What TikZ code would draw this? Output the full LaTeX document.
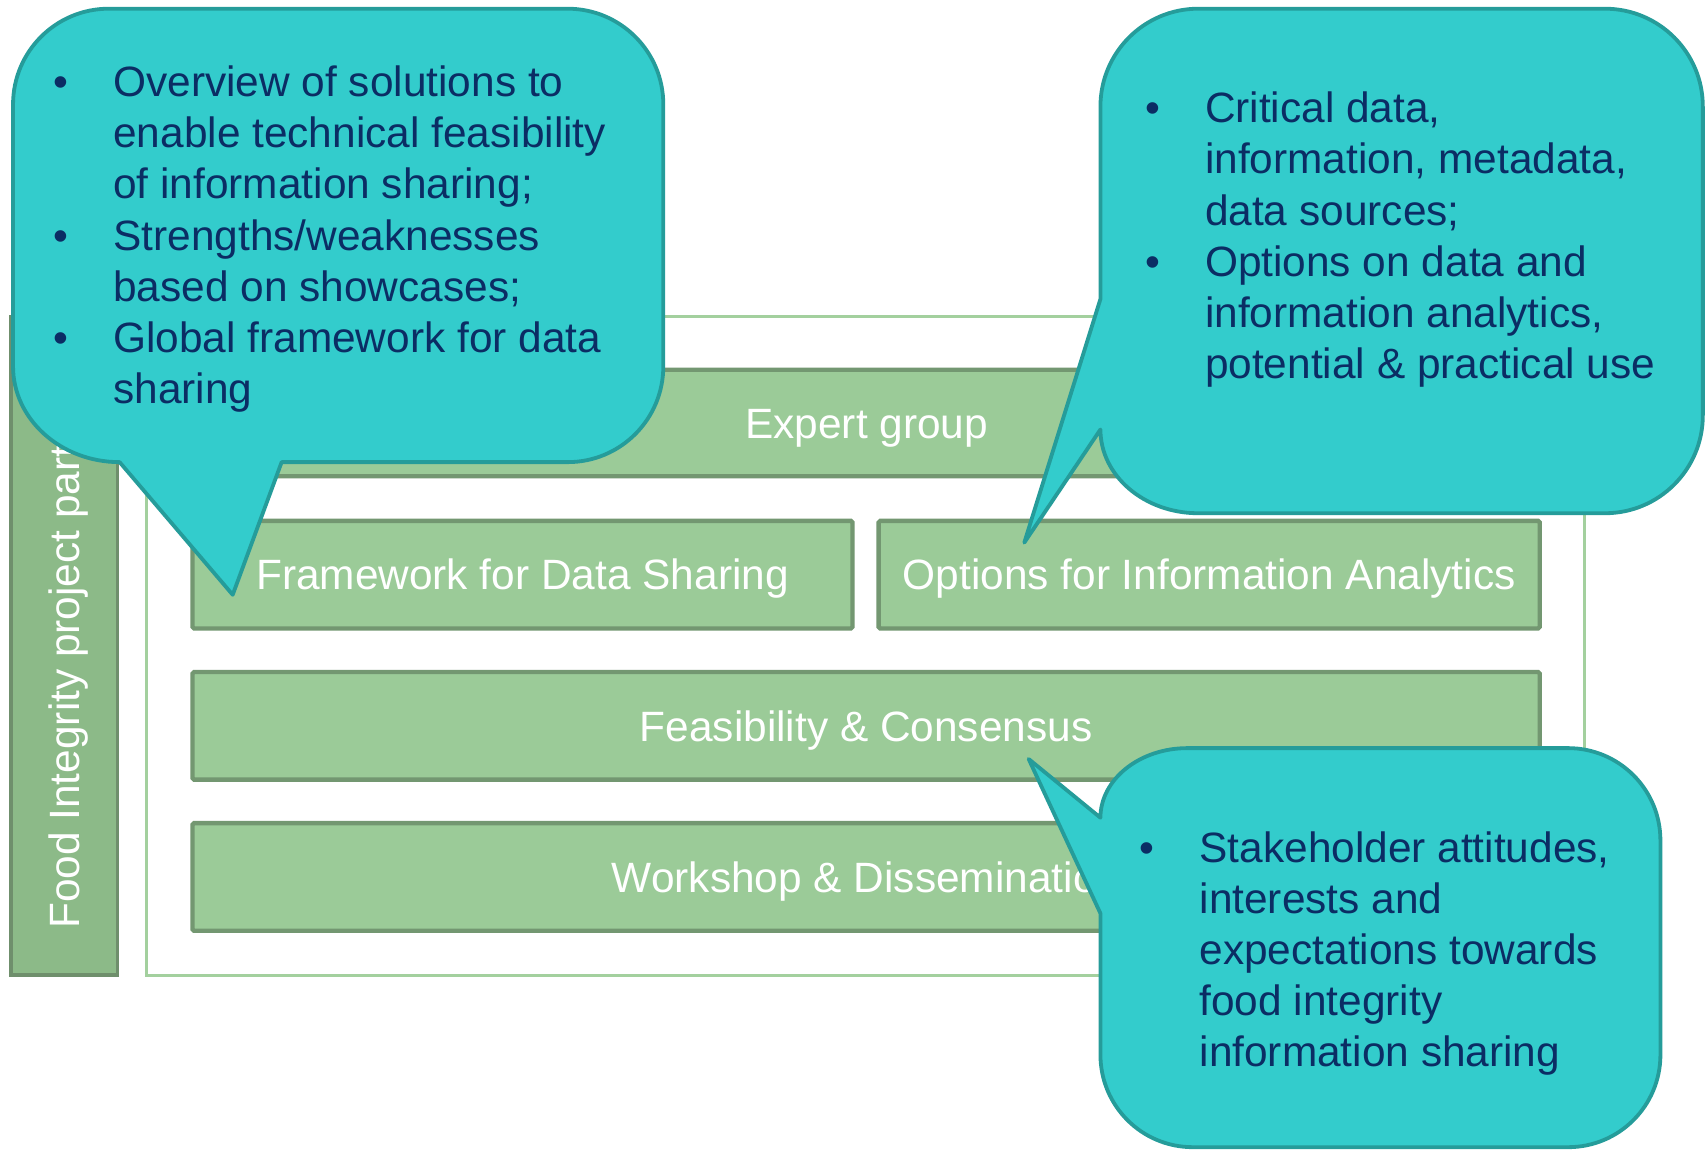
\documentclass[tikz,border=0pt]{standalone}
\usepackage{fontspec}
\setmainfont{Liberation Sans}
\newfontfamily\arialf{Liberation Sans}
\definecolor{tealfill}{HTML}{33CCCC}
\definecolor{tealline}{HTML}{259C9A}
\definecolor{navytext}{HTML}{0B2D64}
\definecolor{boxfill}{HTML}{9BCB98}
\definecolor{boxline}{HTML}{739771}
\definecolor{barfill}{HTML}{8CBA88}
\definecolor{barline}{HTML}{6F8F6C}
\definecolor{frameline}{HTML}{A3D09E}
\newcommand{\bfnt}{\arialf\fontsize{39}{47}\selectfont}
\newcommand{\bul}{\makebox[55pt][l]{•}}
\begin{document}
\begin{tikzpicture}[x=1pt,y=-1pt,
  greenbox/.style={draw=boxline,fill=boxfill,line width=4pt,rounded corners=1.5pt,
    text=white,font=\bfnt,inner sep=0pt,text height=28pt,text depth=0pt},
  callout/.style={draw=tealline,fill=tealfill,line width=3.5pt,line join=round},
  callouttext/.style={anchor=base west,inner sep=0pt,text=navytext,font=\bfnt}]
\useasboundingbox (0,0) rectangle (1568,1059.4);
% outer frame
\node[draw=frameline,fill=white,line width=3pt,minimum width=1322pt,minimum height=606pt,inner sep=0pt] (frame) at (796,594) {};
% left bar
\node[draw=barline,fill=barfill,line width=3.5pt,minimum width=98pt,minimum height=606pt,inner sep=0pt] (bar) at (59,594) {};
\node[rotate=90,text=white,font=\bfnt,inner sep=0pt,text height=28pt,text depth=0pt] (barlabel) at (bar.center) {Food Integrity project partners};
% green boxes
\node[greenbox,minimum width=1238pt,minimum height=98pt] (expert) at (797,389) {Expert group};
\node[greenbox,minimum width=607pt,minimum height=99pt] (framework) at (480.5,528.5) {Framework for Data Sharing};
\node[greenbox,minimum width=608pt,minimum height=99pt] (options) at (1112,528.5) {Options for Information Analytics};
\node[greenbox,minimum width=1239pt,minimum height=99pt] (feas) at (796.5,667.5) {Feasibility \& Consensus};
\node[greenbox,minimum width=1239pt,minimum height=99pt] (workshop) at (796.5,806.5) {Workshop \& Dissemination};
% left callout
\draw[callout] (100,8) -- (522,8) .. controls (570.6,8) and (610,47.4) .. (610,96)
  -- (610,337) .. controls (610,385.6) and (570.6,425) .. (522,425)
  -- (259,425) -- (214,547) -- (110,425)
  .. controls (56,425) and (12,385.6) .. (12,337)
  -- (12,96) .. controls (12,47.4) and (51.4,8) .. (100,8) -- cycle;
\node[callouttext] (lefttext) at (49,89) {\begin{tabular}[t]{@{}l@{}}
\bul Overview of solutions to\\
\hspace*{55pt}enable technical feasibility\\
\hspace*{55pt}of information sharing;\\
\bul Strengths/weaknesses\\
\hspace*{55pt}based on showcases;\\
\bul Global framework for data\\
\hspace*{55pt}sharing
\end{tabular}};
% right top callout
\draw[callout] (1102,8) -- (1476,8) .. controls (1525.7,8) and (1566,48.3) .. (1566,98)
  -- (1566,382) .. controls (1566,431.7) and (1525.7,472) .. (1476,472)
  -- (1102,472) .. controls (1052.3,472) and (1012,437.5) .. (1012,395)
  -- (942,499) -- (1012,275)
  -- (1012,98) .. controls (1012,48.3) and (1052.3,8) .. (1102,8) -- cycle;
\node[callouttext] (righttext) at (1053,113) {\begin{tabular}[t]{@{}l@{}}
\bul Critical data,\\
\hspace*{55pt}information, metadata,\\
\hspace*{55pt}data sources;\\
\bul Options on data and\\
\hspace*{55pt}information analytics,\\
\hspace*{55pt}potential \& practical use
\end{tabular}};
% bottom callout
\draw[callout] (1092,688) -- (1442,688) .. controls (1489,688) and (1527,726) .. (1527,773)
  -- (1527,970) .. controls (1527,1017) and (1489,1055) .. (1442,1055)
  -- (1097,1055) .. controls (1050,1055) and (1012,1017) .. (1012,970)
  -- (1012,840) -- (946,698) -- (1012,752)
  .. controls (1012,716.7) and (1048,688) .. (1092,688) -- cycle;
\node[callouttext] (bottomtext) at (1048,793) {\begin{tabular}[t]{@{}l@{}}
\bul Stakeholder attitudes,\\
\hspace*{55pt}interests and\\
\hspace*{55pt}expectations towards\\
\hspace*{55pt}food integrity\\
\hspace*{55pt}information sharing
\end{tabular}};
\end{tikzpicture}
\end{document}
